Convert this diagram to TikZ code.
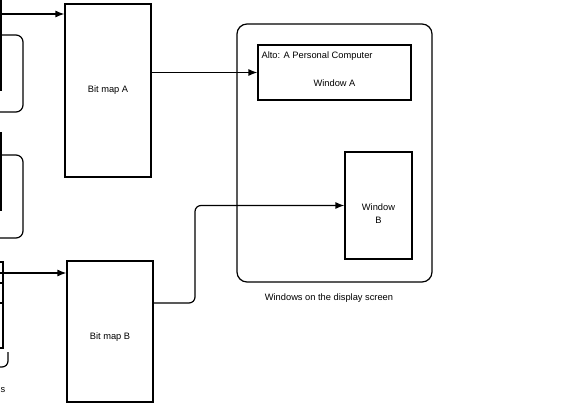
\documentclass[tikz,border=0pt]{standalone}
\usepackage{fontspec}
\setmainfont{Liberation Sans}
\usetikzlibrary{arrows.meta}

\begin{document}
\begin{tikzpicture}[x=1pt, y=-1pt, line width=1.2pt,
    bitmap/.style={draw, minimum width=86pt},
    winbox/.style={draw},
    feed/.style={-{Latex[length=9pt,width=7pt]}},
    font=\fontsize{9.3}{13}\selectfont]
    \useasboundingbox (0,0) rectangle (565,415);
    \clip (0,0) rectangle (565,415);

    % Cut-off shapes at the left edge
    \draw (-30,-10) rectangle (1,90);
    \draw [rounded corners=7pt] (-40,35) rectangle (23,112);
    \draw (-30,133) rectangle (1,210);
    \draw [rounded corners=7pt] (-40,155) rectangle (23,238);
    \draw (-30,262) rectangle (3,283);
    \draw (-30,283) rectangle (3,303);
    \draw (-30,303) rectangle (3,348);
    \draw [rounded corners=6pt] (8,352) -- (8,367) -- (-20,367);
    \node (cutS) at (3,390) {s};

    % Bit maps
    \node [bitmap, minimum height=173pt] (bitA) at (108,90.5) {};
    \node (labA) at (bitA.center) {Bit map A};
    \node [bitmap, minimum height=141pt] (bitB) at (110,331.5) {};
    \node (labB) at ([yshift=-6pt]bitB.center) {Bit map B};

    % Display screen
    \node [draw, rounded corners=10pt, minimum width=195pt, minimum height=258pt] (screen) at (334.5,153) {};
    \node [winbox, minimum width=153pt, minimum height=55pt] (winA) at (334.5,72.5) {};
    \node [anchor=west, inner sep=0pt] (alto) at (261,56) {Alto: A Personal Computer};
    \node (labWA) at (334.5,83) {Window A};
    \node [winbox, minimum width=67pt, minimum height=107pt] (winB) at (378.5,205.5) {};
    \node [align=center] (labWB) at ([yshift=-8pt]winB.center) {Window\\B};
    \node (caption) at (329,298) {Windows on the display screen};

    % Connectors
    \coordinate (inA) at (-5,14);
    \coordinate (inB) at (-5,273);
    \draw [feed] (inA) -- (bitA.west |- inA);
    \draw [feed] (inB) -- (bitB.west |- inB);
    \draw [feed] (bitA.east |- winA.west) -- (winA.west);
    \draw [feed, rounded corners=6pt] (bitB.east |- 0,303) -- (195,303) |- (winB.west);
\end{tikzpicture}
\end{document}
